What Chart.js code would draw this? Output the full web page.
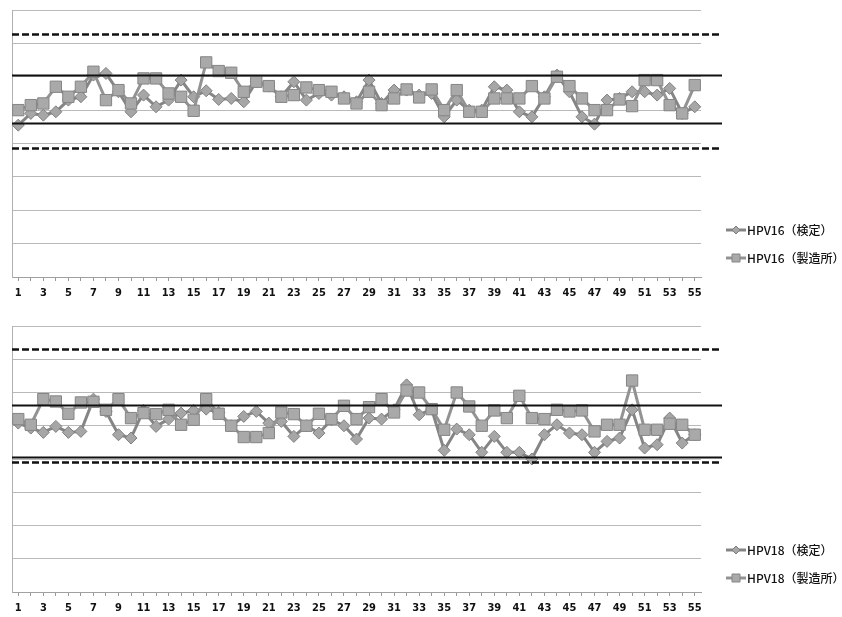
<!DOCTYPE html>
<html>
<head>
<meta charset="utf-8">
<script src="https://cdn.jsdelivr.net/npm/chart.js@4/dist/chart.umd.min.js"></script>
<style>
  html, body { margin: 0; padding: 0; background: #fff; }
  body { width: 842px; height: 617px; position: relative; overflow: hidden; }
  .box { position: absolute; left: 0; width: 842px; }
  #box16 { top: 0; height: 310px; }
  #box18 { top: 316px; height: 309px; }
</style>
</head>
<body>
<div class="box" id="box16"><canvas id="chart16"></canvas></div>
<div class="box" id="box18"><canvas id="chart18"></canvas></div>
<script>
/* DATA */
const categories = ['1','2','3','4','5','6','7','8','9','10','11','12','13','14','15','16','17','18','19','20',
  '21','22','23','24','25','26','27','28','29','30','31','32','33','34','35','36','37','38','39','40',
  '41','42','43','44','45','46','47','48','49','50','51','52','53','54','55'];

// HPV16
const hpv16Kentei = [4.55, 4.9, 4.85, 4.95, 5.3, 5.4, 6.05, 6.1, 5.55, 4.95, 5.45, 5.1, 5.3, 5.9, 5.4, 5.58, 5.32, 5.35, 5.25, 5.85,
  5.72, 5.4, 5.85, 5.3, 5.5, 5.45, 5.4, 5.25, 5.9, 5.2, 5.6, 5.6, 5.45, 5.5, 4.8, 5.3, 5.0, 5.0, 5.7, 5.6,
  4.95, 4.8, 5.4, 6.05, 5.55, 4.8, 4.58, 5.3, 5.35, 5.55, 5.55, 5.45, 5.65, 4.9, 5.1];
const hpv16Seizo = [5.0, 5.15, 5.2, 5.7, 5.4, 5.7, 6.15, 5.3, 5.6, 5.2, 5.95, 5.95, 5.5, 5.4, 4.98, 6.43, 6.17, 6.12, 5.55, 5.85,
  5.72, 5.4, 5.45, 5.68, 5.6, 5.55, 5.35, 5.2, 5.55, 5.15, 5.35, 5.62, 5.38, 5.62, 5.0, 5.6, 4.95, 4.95, 5.35, 5.35,
  5.35, 5.72, 5.35, 6.0, 5.72, 5.35, 5.0, 5.0, 5.32, 5.12, 5.9, 5.9, 5.15, 4.9, 5.75];
const hpv16Limits = [7.27, 6.04, 4.62, 3.87]; // dashed upper, solid upper, solid lower, dashed lower

// HPV18
const hpv18Kentei = [5.08, 4.93, 4.8, 4.98, 4.8, 4.83, 5.8, 5.43, 4.73, 4.63, 5.46, 4.98, 5.2, 5.38, 5.46, 5.5, 5.4, 5.0, 5.28, 5.43,
  5.08, 5.13, 4.68, 5.0, 4.78, 5.18, 5.0, 4.6, 5.23, 5.2, 5.48, 6.23, 5.33, 5.5, 4.26, 4.9, 4.73, 4.2, 4.68, 4.2,
  4.2, 4.0, 4.73, 5.03, 4.78, 4.73, 4.2, 4.53, 4.63, 5.48, 4.33, 4.43, 5.23, 4.48, 4.73];
const hpv18Seizo = [5.2, 5.03, 5.8, 5.73, 5.36, 5.7, 5.72, 5.48, 5.8, 5.23, 5.38, 5.35, 5.48, 5.03, 5.18, 5.8, 5.36, 5.0, 4.66, 4.66,
  4.78, 5.4, 5.35, 5.0, 5.36, 5.2, 5.6, 5.2, 5.56, 5.8, 5.4, 6.06, 6.0, 5.5, 4.88, 6.0, 5.58, 5.0, 5.46, 5.23,
  5.9, 5.23, 5.2, 5.48, 5.43, 5.46, 4.83, 5.03, 5.03, 6.36, 4.88, 4.88, 5.06, 5.03, 4.73];
const hpv18Limits = [7.31, 5.62, 4.07, 3.90];

const yTicks = [0, 1, 2, 3, 4, 5, 6, 7, 8];

/* CONTROL LINES (drawn from the y scale, run a bit past the plot) */
const controlLines = {
  id: 'controlLines',
  afterDatasetsDraw(chart, args, opts) {
    const ctx = chart.ctx;
    const area = chart.chartArea;
    const y = chart.scales.y;
    opts.values.forEach((v, i) => {
      const dashed = (i === 0 || i === opts.values.length - 1);
      const py = Math.round(y.getPixelForValue(v)) + 0.5;
      ctx.save();
      ctx.strokeStyle = '#111';
      ctx.lineWidth = dashed ? 2.5 : 2;
      ctx.setLineDash(dashed ? [7, 3] : []);
      ctx.beginPath();
      ctx.moveTo(area.left, py);
      ctx.lineTo(area.right + 21, py);
      ctx.stroke();
      ctx.restore();
    });
  }
};

/* LEGEND at the right side */
const sideLegend = {
  id: 'sideLegend',
  afterDraw(chart, args, opts) {
    const ctx = chart.ctx;
    const area = chart.chartArea;
    chart.data.datasets.forEach((ds, i) => {
      const y = area.top + opts.top + i * 28;
      const x0 = area.right + 25;
      ctx.save();
      ctx.strokeStyle = ds.borderColor;
      ctx.lineWidth = 3;
      ctx.beginPath();
      ctx.moveTo(x0, y);
      ctx.lineTo(x0 + 20, y);
      ctx.stroke();
      ctx.fillStyle = ds.pointBackgroundColor;
      ctx.strokeStyle = ds.pointBorderColor;
      ctx.lineWidth = 1;
      ctx.beginPath();
      if (ds.pointStyle === 'rect') {
        ctx.rect(x0 + 6, y - 4, 8, 8);
      } else {
        ctx.moveTo(x0 + 10, y - 4);
        ctx.lineTo(x0 + 14, y);
        ctx.lineTo(x0 + 10, y + 4);
        ctx.lineTo(x0 + 6, y);
        ctx.closePath();
      }
      ctx.fill();
      ctx.stroke();
      ctx.fillStyle = '#111';
      ctx.font = '500 12px "Noto Sans CJK JP"';
      ctx.textBaseline = 'middle';
      ctx.fillText(ds.label, x0 + 21, y);
      ctx.restore();
    });
  }
};

function makeChart(canvasId, kentei, seizo, labelA, labelB, limits, legendTop) {
  const ctx = document.getElementById(canvasId).getContext('2d');
  return new Chart(ctx, {
    type: 'line',
    data: {
      labels: categories,
      datasets: [
        {
          label: labelA,
          data: kentei,
          borderColor: '#858585',
          borderWidth: 3,
          pointStyle: 'rectRot',
          pointRadius: 6,
          pointBackgroundColor: '#a6a6a6',
          pointBorderColor: '#808080',
          pointBorderWidth: 1,
          tension: 0,
          order: 2,
        },
        {
          label: labelB,
          data: seizo,
          borderColor: '#939393',
          borderWidth: 3,
          pointStyle: 'rect',
          pointRadius: 8,
          pointBackgroundColor: '#a9a9a9',
          pointBorderColor: '#858585',
          pointBorderWidth: 1,
          tension: 0,
          order: 1,
        },
      ],
    },
    options: {
      responsive: true,
      maintainAspectRatio: false,
      animation: false,
      layout: { padding: { left: 12, right: 141, top: 10, bottom: 5 } },
      scales: {
        x: {
          type: 'category',
          offset: true,
          grid: { drawOnChartArea: false, drawTicks: true, tickLength: 4, color: '#9a9a9a' },
          border: { color: '#a0a0a0' },
          ticks: {
            autoSkip: false,
            maxRotation: 0,
            padding: 6,
            color: '#111',
            font: { family: '"Liberation Sans Narrow", "DejaVu Sans Condensed", sans-serif', size: 11, weight: 'bold' },
            callback: function (v, i) { return i % 2 === 0 ? this.getLabelForValue(v) : ''; },
          },
          afterFit: (s) => { s.height = 28; },
        },
        y: {
          min: yTicks[0],
          max: yTicks[yTicks.length - 1],
          ticks: { stepSize: 1, display: false },
          grid: { color: '#b9b9b9', drawTicks: false },
          border: { color: '#b0b0b0' },
          afterFit: (s) => { s.width = 0; },
        },
      },
      plugins: {
        legend: { display: false },
        tooltip: { enabled: false },
        controlLines: { values: limits },
        sideLegend: { top: legendTop },
      },
    },
    plugins: [controlLines, sideLegend],
  });
}

makeChart('chart16', hpv16Kentei, hpv16Seizo, 'HPV16（検定）', 'HPV16（製造所）', hpv16Limits, 220);
makeChart('chart18', hpv18Kentei, hpv18Seizo, 'HPV18（検定）', 'HPV18（製造所）', hpv18Limits, 224);
</script>
</body>
</html>
